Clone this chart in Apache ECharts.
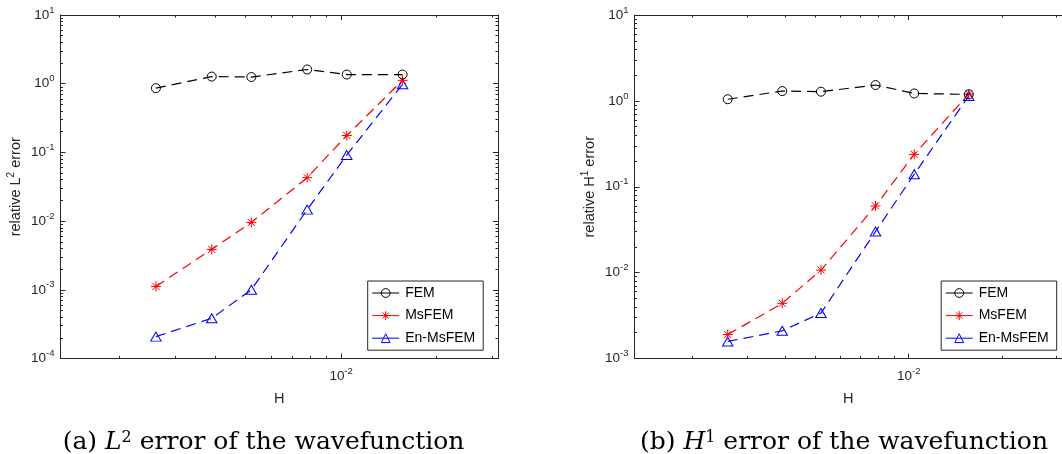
<!DOCTYPE html>
<html>
<head>
<meta charset="utf-8">
<script src="https://cdn.jsdelivr.net/npm/echarts@6/dist/echarts.min.js"></script>
<style>
  html, body { margin: 0; padding: 0; background: #fff; }
  #chart { width: 1062px; height: 454px; }
</style>
</head>
<body>
<div id="chart"></div>
<script>
// Mesh sizes H (coarse element size) shared by both panels
const meshH = [0.002604, 0.003906, 0.005208, 0.007813, 0.010417, 0.015625];

// (a) relative L2 error
const l2FEM   = [0.86, 1.27, 1.25, 1.61, 1.36, 1.36];
const l2MsFEM = [0.00112, 0.00388, 0.00957, 0.0429, 0.176, 1.12];
const l2EnMs  = [0.000208, 0.000385, 0.00100, 0.0147, 0.0914, 0.98];

// (b) relative H1 error
const h1FEM   = [1.045, 1.30, 1.28, 1.53, 1.22, 1.19];
const h1MsFEM = [0.0019, 0.00439, 0.0107, 0.0597, 0.238, 1.20];
const h1EnMs  = [0.00158, 0.0021, 0.00338, 0.0301, 0.140, 1.14];

// Axis ranges and tick values
const xRange = [0.0013021, 0.03125];
const xMajorTicks = [0.01];
const xMinorTicks = [0.002, 0.003, 0.004, 0.005, 0.006, 0.007, 0.008, 0.009, 0.02, 0.03];
const yRangeL2 = [1e-4, 10];
const yRangeH1 = [1e-3, 10];

const seriesNames = ['FEM', 'MsFEM', 'En-MsFEM'];

const AX = '#262626';
const SANS = '"Liberation Sans", Arial, sans-serif';
const SERIF = '"DejaVu Serif", serif';

function decades(lo, hi) {
  const out = [];
  for (let e = Math.round(Math.log10(lo)); e <= Math.round(Math.log10(hi)); e++) out.push(Math.pow(10, e));
  return out;
}
function minorDecades(lo, hi) {
  const out = [];
  for (let e = Math.round(Math.log10(lo)); e < Math.round(Math.log10(hi)); e++) {
    for (let k = 2; k <= 9; k++) out.push(k * Math.pow(10, e));
  }
  return out;
}
function powLabel(v) {
  const e = Math.round(Math.log10(v));
  return '{b|10}{s|' + e + '}';
}
const powRich = {
  b: { fontSize: 13.5, fontFamily: SANS, color: AX, lineHeight: 20, verticalAlign: 'middle' },
  s: { fontSize: 9.5, fontFamily: SANS, color: AX, lineHeight: 11, verticalAlign: 'top' }
};

const xAxes = [], yAxes = [], series = [];

function panel(g, yRange, yName, data, showRightFrame) {
  const xi = xAxes.length, yi = yAxes.length;
  const base = { type: 'log', logBase: 10, gridIndex: g, min: xRange[0], max: xRange[1], splitLine: { show: false } };
  // bottom axis with label, then minor ticks, then mirrored top axis
  xAxes.push(Object.assign({}, base, {
    position: 'bottom',
    axisLine: { show: true, lineStyle: { color: AX, width: 1 } },
    axisTick: { show: true, inside: true, length: 5, customValues: xMajorTicks, lineStyle: { color: AX } },
    axisLabel: { show: true, customValues: xMajorTicks, formatter: powLabel, rich: powRich, margin: 8 },
    name: 'H', nameLocation: 'middle', nameGap: 33,
    nameTextStyle: { fontSize: 14.5, fontFamily: SANS, color: AX }
  }));
  xAxes.push(Object.assign({}, base, {
    position: 'bottom',
    axisLine: { show: false },
    axisTick: { show: true, inside: true, length: 2.5, customValues: xMinorTicks, lineStyle: { color: AX } },
    axisLabel: { show: false }
  }));
  xAxes.push(Object.assign({}, base, {
    position: 'top',
    axisLine: { show: true, lineStyle: { color: AX, width: 1 } },
    axisTick: { show: true, inside: true, length: 5, customValues: xMajorTicks, lineStyle: { color: AX } },
    axisLabel: { show: false }
  }));
  xAxes.push(Object.assign({}, base, {
    position: 'top',
    axisLine: { show: false },
    axisTick: { show: true, inside: true, length: 2.5, customValues: xMinorTicks, lineStyle: { color: AX } },
    axisLabel: { show: false }
  }));

  const yMajor = decades(yRange[0], yRange[1]);
  const yMinor = minorDecades(yRange[0], yRange[1]);
  const ybase = { type: 'log', logBase: 10, gridIndex: g, min: yRange[0], max: yRange[1], splitLine: { show: false } };
  yAxes.push(Object.assign({}, ybase, {
    position: 'left',
    axisLine: { show: true, lineStyle: { color: AX, width: 1 } },
    axisTick: { show: true, inside: true, length: 5, customValues: yMajor, lineStyle: { color: AX } },
    axisLabel: { show: true, customValues: yMajor, formatter: powLabel, rich: powRich, margin: 6 },
    name: yName, nameLocation: 'middle', nameGap: 36,
    nameTextStyle: {
      rich: {
        a: { fontSize: 14.5, fontFamily: SANS, color: AX, lineHeight: 18, verticalAlign: 'middle' },
        s: { fontSize: 10, fontFamily: SANS, color: AX, lineHeight: 12, verticalAlign: 'top' }
      }
    }
  }));
  yAxes.push(Object.assign({}, ybase, {
    position: 'left',
    axisLine: { show: false },
    axisTick: { show: true, inside: true, length: 2.5, customValues: yMinor, lineStyle: { color: AX } },
    axisLabel: { show: false }
  }));
  yAxes.push(Object.assign({}, ybase, {
    position: 'right',
    show: showRightFrame,
    axisLine: { show: true, lineStyle: { color: AX, width: 1 } },
    axisTick: { show: true, inside: true, length: 5, customValues: yMajor, lineStyle: { color: AX } },
    axisLabel: { show: false }
  }));
  yAxes.push(Object.assign({}, ybase, {
    position: 'right',
    show: showRightFrame,
    axisLine: { show: false },
    axisTick: { show: true, inside: true, length: 2.5, customValues: yMinor, lineStyle: { color: AX } },
    axisLabel: { show: false }
  }));

  const styles = [
    { color: '#000000', symbol: 'circle', size: 9 },
    { color: '#ff0000', symbol: 'path://M0,-5L0,5M-5,0L5,0M-3.6,-3.6L3.6,3.6M-3.6,3.6L3.6,-3.6', size: 10 },
    { color: '#0000ff', symbol: 'triangle', size: [10.5, 9] }
  ];
  data.forEach((vals, k) => {
    const st = styles[k];
    series.push({
      name: seriesNames[k],
      type: 'line',
      xAxisIndex: xi,
      yAxisIndex: yi,
      data: meshH.map((h, i) => [h, vals[i]]),
      symbol: st.symbol,
      symbolSize: st.size,
      showAllSymbol: true,
      color: st.color,
      lineStyle: { color: st.color, width: 1.2, type: [10, 6] },
      itemStyle: { color: 'rgba(0,0,0,0)', borderColor: st.color, borderWidth: 1 },
      emphasis: { disabled: true },
      z: 5 - k
    });
  });
}

panel(0, yRangeL2, '{a|relative L}{s|2}{a| error}', [l2FEM, l2MsFEM, l2EnMs], true);
panel(1, yRangeH1, '{a|relative H}{s|1}{a| error}', [h1FEM, h1MsFEM, h1EnMs], false);

function legendAt(left, top) {
  return {
    orient: 'vertical', left: left, top: top,
    data: seriesNames,
    itemWidth: 27, itemHeight: 11, itemGap: 8.6,
    padding: [5, 8, 5, 4],
    borderColor: AX, borderWidth: 1, backgroundColor: '#fff',
    selectedMode: false,
    lineStyle: { type: 'solid', width: 1 },
    itemStyle: { borderWidth: 1 },
    textStyle: { fontSize: 14, fontFamily: SANS, color: '#000', padding: [0, 0, 0, 1] }
  };
}

const capRich = {
  n: { fontSize: 25, fontFamily: SERIF, color: '#000' },
  i: { fontSize: 25, fontFamily: SERIF, fontStyle: 'italic', color: '#000' },
  s: { fontSize: 16, fontFamily: SERIF, color: '#000', verticalAlign: 'top', lineHeight: 16 }
};

const chart = echarts.init(document.getElementById('chart'), null, { renderer: 'canvas' });
chart.setOption({
  animation: false,
  backgroundColor: '#fff',
  grid: [
    { left: 60.5, top: 15, width: 437.5, height: 343.5 },
    { left: 634.5, top: 15, width: 437.5, height: 343.5 }
  ],
  xAxis: xAxes,
  yAxis: yAxes,
  legend: [legendAt(367.7, 281), legendAt(941.2, 281)],
  series: series,
  graphic: [
    { type: 'text', x: 263.5, y: 442, style: { text: '{n|(a) }{i|L}{s|2}{n| error of the wavefunction}', rich: capRich, align: 'center', verticalAlign: 'middle' } },
    { type: 'text', x: 844, y: 442, style: { text: '{n|(b) }{i|H}{s|1}{n| error of the wavefunction}', rich: capRich, align: 'center', verticalAlign: 'middle' } }
  ]
});
</script>
</body>
</html>
